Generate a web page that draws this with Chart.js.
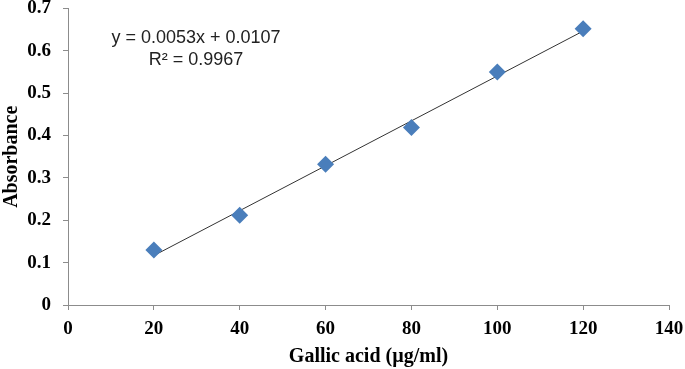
<!DOCTYPE html>
<html>
<head>
<meta charset="utf-8">
<script src="https://cdn.jsdelivr.net/npm/chart.js@4/dist/chart.umd.min.js"></script>
<style>
  html, body { margin: 0; padding: 0; background: #fff; }
  #wrap { width: 685px; height: 369px; position: relative; }
</style>
</head>
<body>
<div id="wrap"><canvas id="calibChart"></canvas></div>
<script>
// Gallic acid standard curve
const concentrations = [20, 40, 60, 80, 100, 120];
const absorbances = [0.13, 0.212, 0.332, 0.419, 0.55, 0.652];

// linear trendline end points (from the fitted equation)
const trendX = [20, 120];
const trendY = [0.1167, 0.6467];

const equationLines = ['y = 0.0053x + 0.0107', 'R\u00B2 = 0.9967'];

const xTitle = 'Gallic acid (\u00B5g/ml)';
const yTitle = 'Absorbance';

const axisGray = '#8c8c8c';
const serif = '"Liberation Serif", "Times New Roman", serif';
const tickFont = { family: serif, size: 19, weight: 'bold' };
const titleFont = { family: serif, size: 20, weight: 'bold' };

// draws the trendline equation as text on the plot
const equationLabel = {
    id: 'equationLabel',
    afterDatasetsDraw(chart) {
        const ctx = chart.ctx;
        ctx.save();
        ctx.fillStyle = '#222';
        ctx.font = '18px "Liberation Sans", Arial, sans-serif';
        ctx.textAlign = 'center';
        ctx.textBaseline = 'middle';
        ctx.fillText(equationLines[0], 196, 38);
        ctx.fillText(equationLines[1], 196, 60);
        ctx.restore();
    }
};

const ctx = document.getElementById('calibChart').getContext('2d');
new Chart(ctx, {
    type: 'scatter',
    data: {
        datasets: [
            {
                label: 'Absorbance',
                data: concentrations.map((x, i) => ({ x: x, y: absorbances[i] })),
                pointStyle: 'rectRot',
                pointRadius: 8.5,
                pointHoverRadius: 8.5,
                backgroundColor: '#4a7ebb',
                borderColor: '#4a7ebb',
                borderWidth: 0,
                order: 1
            },
            {
                label: 'Linear',
                type: 'line',
                data: trendX.map((x, i) => ({ x: x, y: trendY[i] })),
                borderColor: '#333',
                borderWidth: 1,
                pointRadius: 0,
                fill: false,
                order: 2
            }
        ]
    },
    options: {
        responsive: true,
        maintainAspectRatio: false,
        animation: false,
        layout: { padding: { top: 7, right: 16, left: 0, bottom: 0 } },
        plugins: {
            legend: { display: false },
            tooltip: { enabled: false }
        },
        scales: {
            x: {
                type: 'linear',
                min: 0,
                max: 140,
                ticks: { stepSize: 20, color: '#000', font: tickFont, padding: 8, maxRotation: 0 },
                grid: { drawOnChartArea: false, drawTicks: true, tickLength: 5, color: axisGray },
                border: { color: axisGray, width: 1 },
                title: {
                    display: true,
                    text: xTitle,
                    color: '#000',
                    font: titleFont,
                    padding: { top: 3, bottom: 0 }
                },
                afterFit(scale) {
                    scale.height = 64;
                    scale.paddingLeft = 0;
                    scale.paddingRight = 0;
                }
            },
            y: {
                type: 'linear',
                min: 0,
                max: 0.7,
                ticks: { stepSize: 0.1, color: '#000', font: tickFont, padding: 12 },
                grid: { drawOnChartArea: false, drawTicks: true, tickLength: 5, color: axisGray },
                border: { color: axisGray, width: 1 },
                title: {
                    display: true,
                    text: yTitle,
                    color: '#000',
                    font: titleFont,
                    padding: { top: 0, bottom: 0 }
                },
                afterFit(scale) {
                    scale.width = 68;
                    scale.paddingTop = 0;
                    scale.paddingBottom = 0;
                }
            }
        }
    },
    plugins: [equationLabel]
});
</script>
</body>
</html>
